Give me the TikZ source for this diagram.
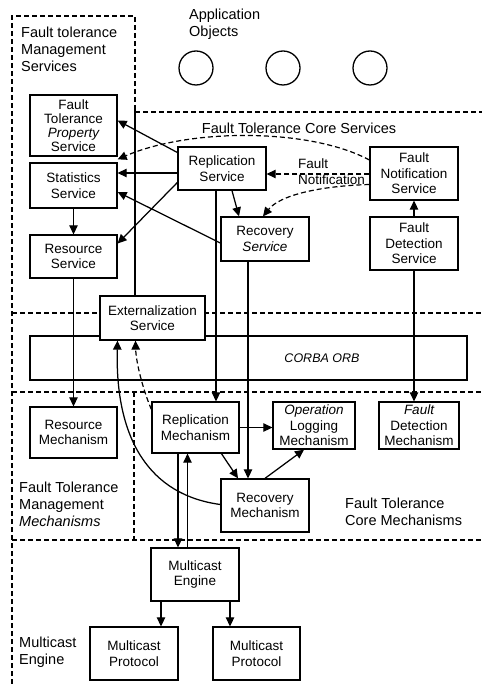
\documentclass[tikz,border=0pt]{standalone}
\usepackage{fontspec}
\setmainfont{Liberation Sans}
\usetikzlibrary{arrows.meta,calc}
\newcommand\boxfnt{\fontsize{13.5}{15.5}\selectfont}
\newcommand\lblfnt{\fontsize{14.5}{17}\selectfont}
\begin{document}
\begin{tikzpicture}[x=1pt,y=-1pt,
  box/.style={draw, line width=1.3pt, fill=white, align=center, inner sep=0pt, font=\boxfnt},
  lbl/.style={align=left, inner sep=0pt, font=\lblfnt, anchor=west},
  arr/.style={line width=1.25pt, -{Triangle[length=9pt,width=8.5pt]}},
  plain/.style={line width=1.25pt},
  dsh/.style={line width=1.2pt, dash pattern=on 5pt off 3pt},
  obj/.style={circle, draw, line width=1.3pt, minimum size=34pt, inner sep=0pt}]
\fill[white] (0,0) rectangle (482,684);
\useasboundingbox (0,0) rectangle (482,684);

% region borders
\draw[dsh] (12,684) -- (12,16) -- (135,16) -- (135,108);
\draw[dsh] (135,112) -- (482,112);
\draw[dsh] (12,313) -- (482,313);
\draw[dsh] (12,392) -- (482,392);
\draw[dsh] (134,392) -- (134,540);
\draw[dsh] (12,540) -- (482,540);

% labels
\node[lbl] (lms) at (21,49) {Fault tolerance\\Management\\Services};
\node[lbl] (lapp) at (189,24) {Application\\Objects};
\node[font=\lblfnt, inner sep=0pt] (lcs) at (299,128) {Fault Tolerance Core Services};
\node[lbl] (lmm) at (19,504) {Fault Tolerance\\Management\\\itshape Mechanisms};
\node[lbl] (lcm) at (345,512) {Fault Tolerance\\Core Mechanisms};
\node[lbl] (lme) at (19,652) {Multicast\\Engine};

% application objects
\node[obj] (o1) at (196,68) {};
\node[obj] (o2) at (283,68) {};
\node[obj] (o3) at (370,68) {};

% CORBA ORB
\node[draw, line width=1.3pt, minimum width=437pt, minimum height=44pt, inner sep=0pt] (orb) at (248.5,358) {};
\node[font=\fontsize{12.5}{14}\selectfont\itshape, inner sep=0pt] (orbt) at (322,358) {CORBA ORB};

% boxes
\node[box, minimum width=87pt, minimum height=61pt, font=\fontsize{13.5}{14}\selectfont] (ftps) at (73.5,125.5) {Fault\\Tolerance\\\itshape Property\\Service};
\node[box, minimum width=87pt, minimum height=45pt] (stat) at (73.5,185.5) {Statistics\\Service};
\node[box, minimum width=87pt, minimum height=43pt] (ress) at (73.5,256.5) {Resource\\Service};
\node[box, minimum width=87pt, minimum height=51pt] (resm) at (73.5,432.5) {Resource\\Mechanism};
\node[box, minimum width=88pt, minimum height=43pt] (reps) at (222,168.5) {Replication\\Service};
\node[box, minimum width=88pt, minimum height=44pt] (recs) at (265,239) {Recovery\\\itshape Service};
\node[box, minimum width=88pt, minimum height=53pt] (fns) at (414,173.5) {Fault\\Notification\\Service};
\node[box, minimum width=88pt, minimum height=53pt] (fds) at (414,243.5) {Fault\\Detection\\Service};
\node[box, minimum width=105pt, minimum height=44pt] (ext) at (152.5,318) {Externalization\\Service};
\node[box, minimum width=87pt, minimum height=51pt] (repm) at (195.5,427.5) {Replication\\Mechanism};
\node[box, minimum width=82pt, minimum height=47pt] (olm) at (314,425.5) {\itshape Operation\\Logging\\Mechanism};
\node[box, minimum width=80pt, minimum height=47pt] (fdm) at (419,425.5) {\itshape Fault\\Detection\\Mechanism};
\node[box, minimum width=88pt, minimum height=53pt] (recm) at (265,505.5) {Recovery\\Mechanism};
\node[box, minimum width=88pt, minimum height=53pt] (me) at (195,574.5) {Multicast\\Engine};
\node[box, minimum width=88pt, minimum height=53pt] (mp1) at (134,653.5) {Multicast\\Protocol};
\node[box, minimum width=87pt, minimum height=53pt] (mp2) at (256.5,653.5) {Multicast\\Protocol};

% divider line
\coordinate (divtop) at (135,108);
\draw[plain] (divtop) -- (divtop |- ext.north);

% fault notification label
\node[lbl, font=\fontsize{13.5}{16}\selectfont] (lfn) at (298,172) {Fault\\Notification};

% connectors: services
\draw[arr] ([yshift=16pt]reps.west) -- ([yshift=5pt]ftps.east);
\draw[arr, dsh] ([yshift=13.5pt]fns.west) .. controls (310,128) and (190,128) .. ([yshift=3pt]stat.north east);
\draw[arr] ([yshift=-4.5pt]reps.west) -- ([yshift=12.5pt]stat.east);
\draw[arr] ([yshift=-14pt]reps.west) -- ([yshift=13pt]ress.east);
\draw[arr] ([yshift=-4pt]recs.west) -- ([yshift=-6.5pt]stat.east);
\draw[arr] (stat.south) -- (ress.north);
\draw[arr] (ress.south) -- (resm.north);
\draw[arr] ([xshift=10pt]reps.south) -- ([xshift=-26pt]recs.north);
\coordinate (a1) at ([xshift=-6pt]reps.south);
\draw[arr] (a1) -- (a1 |- repm.north);
\coordinate (a2) at ([xshift=-17pt]recs.south);
\draw[arr] (a2) -- (a2 |- recm.north);
\coordinate (a3) at ([yshift=-0.5pt]fns.west);
\draw[arr, dsh] (a3) -- (a3 -| reps.east);
\draw[arr, dsh] ([yshift=-11pt]fns.west) .. controls (320,186) and (280,195) .. ([xshift=-2pt]recs.north);
\draw[arr] (fds.north) -- (fns.south);
\draw[arr] (fds.south) -- (fds.south |- fdm.north);

% connectors: mechanisms
\draw[arr, dsh] ([yshift=-8pt]repm.north west) .. controls (143,390) and (136,362) .. ([xshift=-17pt]ext.south);
\draw[arr] ([yshift=1pt]recm.west) .. controls (150,495) and (115,440) .. ([xshift=-35pt]ext.south);
\coordinate (a4) at (repm.east);
\draw[arr] (a4) -- (a4 -| olm.west);
\draw[arr] ([xshift=26pt]repm.south) -- ([xshift=-27pt]recm.north);
\draw[arr] (recm.north) -- ([xshift=-10pt]olm.south);
\coordinate (a5) at ([xshift=-17.5pt]repm.south);
\draw[arr] (a5) -- (a5 |- me.north);
\coordinate (a6) at ([xshift=-7.5pt]me.north);
\draw[arr] (a6) -- (a6 |- repm.south);
\coordinate (a7) at ([xshift=-34pt]me.south);
\draw[arr] (a7) -- (a7 |- mp1.north);
\coordinate (a8) at ([xshift=35pt]me.south);
\draw[arr] (a8) -- (a8 |- mp2.north);
\end{tikzpicture}
\end{document}
